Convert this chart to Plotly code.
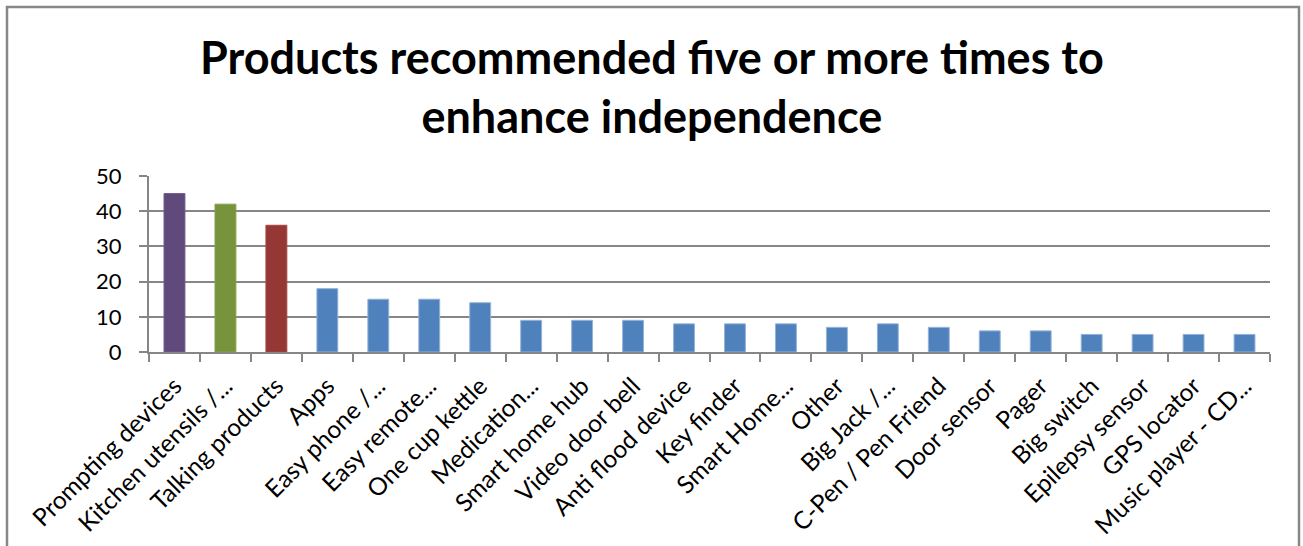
import plotly.graph_objects as go

categories = [
    "Prompting devices", "Kitchen utensils /...", "Talking products", "Apps",
    "Easy phone /...", "Easy remote...", "One cup kettle", "Medication...",
    "Smart home hub", "Video door bell", "Anti flood device", "Key finder",
    "Smart Home...", "Other", "Big Jack /...", "C-Pen / Pen Friend",
    "Door sensor", "Pager", "Big switch", "Epilepsy sensor", "GPS locator",
    "Music player - CD...",
]
counts = [45, 42, 36, 18, 15, 15, 14, 9, 9, 9, 8, 8, 8, 7, 8, 7, 6, 6, 5, 5, 5, 5]

# first three bars get their own colours, the rest share the default blue
bar_colors = ["#604A7B", "#77933C", "#953735"] + ["#4F81BD"] * (len(categories) - 3)
edge_colors = ["#6F5A8A", "#86A24A", "#A44644"] + ["#95B3D7"] * (len(categories) - 3)

title_text = "<b>Products recommended five or more times to<br>enhance independence</b>"

W, H = 1303, 546
ML, MR, MT, MB = 149, 33, 176, 194
FONT = "Lato, Calibri, Carlito, sans-serif"

fig = go.Figure(
    go.Bar(
        x=categories,
        y=counts,
        marker=dict(color=bar_colors, line=dict(color=edge_colors, width=1)),
    )
)

pw = W - ML - MR
ph = H - MT - MB

def px_x(x):
    return (x - ML) / pw

def px_y(y):
    return (H - MB - y) / ph

# outer chart frame
fig.add_shape(
    type="rect", xref="paper", yref="paper",
    x0=px_x(7), x1=px_x(1299), y0=px_y(560), y1=px_y(7),
    line=dict(color="#878787", width=2.5), fillcolor="rgba(0,0,0,0)", layer="below",
)

# two-line chart title
fig.add_annotation(
    text=title_text, xref="paper", yref="paper",
    x=px_x(652), y=px_y(28), xanchor="center", yanchor="top",
    showarrow=False, align="center",
    font=dict(family=FONT, size=45, color="black"),
)

fig.update_layout(
    width=W, height=H,
    margin=dict(l=ML, r=MR, t=MT, b=MB, pad=0, autoexpand=False),
    paper_bgcolor="white", plot_bgcolor="white",
    bargap=0.59,
    showlegend=False,
    font=dict(family=FONT, color="black"),
    xaxis=dict(
        automargin=False,
        tickangle=-45,
        tickfont=dict(size=24.5, family=FONT, color="black"),
        showline=True, linecolor="#868686", linewidth=2,
        ticks="outside", tickson="boundaries", ticklen=8, tickwidth=2, tickcolor="#868686",
        showgrid=False,
        ticklabelstandoff=8,
    ),
    yaxis=dict(
        automargin=False,
        range=[0, 50], dtick=10,
        tickfont=dict(size=22, family=FONT, color="black"),
        showline=True, linecolor="#868686", linewidth=2,
        ticks="outside", ticklen=8, tickwidth=2, tickcolor="#868686",
        showgrid=True, gridcolor="#868686", gridwidth=2,
        zeroline=False,
        ticklabelstandoff=13,
    ),
)

fig.write_html("out.html")
